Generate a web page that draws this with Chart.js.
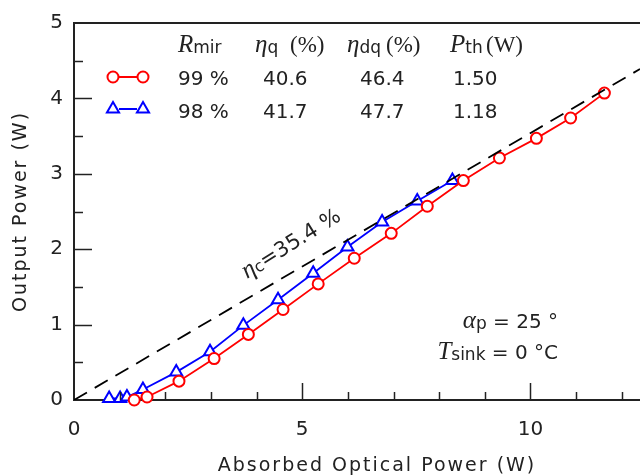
<!DOCTYPE html>
<html>
<head>
<meta charset="utf-8">
<script src="https://cdn.jsdelivr.net/npm/chart.js@4.4.1/dist/chart.umd.min.js"></script>
<style>
html, body { margin: 0; padding: 0; background: #fff; }
#wrap { width: 640px; height: 476px; }
</style>
</head>
<body>
<div id="wrap"><canvas id="chart" width="640" height="476"></canvas></div>
<script>
// values
const red99X  = [1.32, 1.60, 2.30, 3.07, 3.82, 4.58, 5.35, 6.14, 6.95, 7.74, 8.53, 9.32, 10.13, 10.88, 11.62];
const red99Y  = [0.00, 0.04, 0.25, 0.55, 0.87, 1.20, 1.54, 1.88, 2.21, 2.57, 2.91, 3.21, 3.47, 3.74, 4.07];
const blue98X = [0.77, 1.01, 1.16, 1.51, 2.24, 2.98, 3.71, 4.47, 5.24, 5.99, 6.75, 7.52, 8.29];
const blue98Y = [0.02, 0.02, 0.04, 0.14, 0.37, 0.64, 0.99, 1.33, 1.68, 2.03, 2.36, 2.64, 2.91];
const fitX = [0, 12.4];
const fitY = [0, 4.39];

const xTicks = [0, 5, 10];
const yTicks = [0, 1, 2, 3, 4, 5];

// legend table
const mirrors = ['99 %', '98 %'];
const etaQ    = ['40.6', '41.7'];
const etaDq   = ['46.4', '47.7'];
const pth     = ['1.50', '1.18'];

const RED = '#ff0000';
const BLUE = '#0000ff';
const INK = '#222';
const SANS = '"DejaVu Sans"';
const SERIF = '"Liberation Serif"';

const toPoints = (xs, ys) => xs.map((x, i) => ({ x: x, y: ys[i] }));

function richText(ctx, x, y, parts, align) {
    let w = 0;
    parts.forEach(p => { ctx.font = p.font; w += ctx.measureText(p.text).width; });
    let cx = align === 'right' ? x - w : x;
    parts.forEach(p => {
        ctx.font = p.font;
        ctx.fillText(p.text, cx, y + (p.dy || 0));
        cx += ctx.measureText(p.text).width;
    });
}

function marker(ctx, style, x, y, color) {
    ctx.save();
    ctx.strokeStyle = color;
    ctx.fillStyle = '#fff';
    ctx.lineWidth = 2;
    Chart.helpers.drawPoint(ctx, { pointStyle: style, radius: style === 'triangle' ? 7 : 5.5, rotation: 0, borderWidth: 2 }, x, y);
    ctx.restore();
}

const decorations = {
    id: 'decorations',
    afterDraw(chart) {
        const ctx = chart.ctx;
        const a = chart.chartArea;
        const xs = chart.scales.x, ys = chart.scales.y;
        ctx.save();

        // frame top and inward ticks
        ctx.strokeStyle = INK;
        ctx.lineWidth = 2;
        ctx.beginPath();
        ctx.moveTo(a.left, a.top);
        ctx.lineTo(a.right, a.top);
        ctx.stroke();
        ctx.lineWidth = 1.5;
        for (let v = 1; v <= 12; v++) {
            const px = Math.round(xs.getPixelForValue(v)) + 0.5;
            const len = v % 5 === 0 ? 17 : 8;
            ctx.beginPath();
            ctx.moveTo(px, a.bottom);
            ctx.lineTo(px, a.bottom - len);
            ctx.stroke();
        }
        for (let v = 0.5; v < 5; v += 0.5) {
            const py = Math.round(ys.getPixelForValue(v)) + 0.5;
            const len = Number.isInteger(v) ? 18 : 9;
            ctx.beginPath();
            ctx.moveTo(a.left, py);
            ctx.lineTo(a.left + len, py);
            ctx.stroke();
        }

        // axis titles
        ctx.fillStyle = INK;
        ctx.letterSpacing = '2px';
        ctx.font = '19px ' + SANS;
        ctx.textBaseline = 'alphabetic';
        ctx.textAlign = 'center';
        ctx.fillText('Absorbed Optical Power (W)', 377, 471);
        ctx.save();
        ctx.translate(26, (a.top + a.bottom) / 2);
        ctx.rotate(-Math.PI / 2);
        ctx.fillText('Output Power (W)', 0, 0);
        ctx.restore();
        ctx.letterSpacing = '0px';
        ctx.textAlign = 'left';

        // legend table header
        richText(ctx, 178, 52, [
            { text: 'R', font: 'italic 25px ' + SERIF },
            { text: 'mir', font: '17px ' + SANS, dy: 1 }
        ]);
        richText(ctx, 255, 52, [
            { text: 'η', font: 'italic 25px ' + SERIF },
            { text: 'q', font: '17px ' + SANS, dy: 1 }
        ]);
        richText(ctx, 347, 52, [
            { text: 'η', font: 'italic 25px ' + SERIF },
            { text: 'dq', font: '17px ' + SANS, dy: 1 }
        ]);
        richText(ctx, 450, 52, [
            { text: 'P', font: 'italic 25px ' + SERIF },
            { text: 'th', font: '17px ' + SANS, dy: 1 }
        ]);
        ctx.font = '23px ' + SERIF;
        ctx.fillText('(%)', 290, 52);
        ctx.fillText('(%)', 386, 52);
        ctx.fillText('(W)', 486, 52);

        // legend rows
        const rowY = [85, 118];
        const rowColor = [RED, BLUE];
        const rowStyle = ['circle', 'triangle'];
        const markY = [77, 109];
        ctx.font = '20px ' + SANS;
        for (let i = 0; i < 2; i++) {
            ctx.fillStyle = INK;
            ctx.fillText(mirrors[i], 178, rowY[i]);
            ctx.fillText(etaQ[i], 263, rowY[i]);
            ctx.fillText(etaDq[i], 360, rowY[i]);
            ctx.fillText(pth[i], 453, rowY[i]);
            ctx.strokeStyle = rowColor[i];
            ctx.lineWidth = 2;
            ctx.beginPath();
            ctx.moveTo(119, markY[i]);
            ctx.lineTo(137, markY[i]);
            ctx.stroke();
            marker(ctx, rowStyle[i], 113, markY[i], rowColor[i]);
            marker(ctx, rowStyle[i], 143, markY[i], rowColor[i]);
        }

        // eta_c label along the dashed line
        ctx.save();
        ctx.translate(247, 279);
        ctx.rotate(-0.56);
        ctx.fillStyle = INK;
        richText(ctx, 0, 0, [
            { text: 'η', font: 'italic 25px ' + SERIF },
            { text: 'c', font: '16px ' + SANS, dy: 1 },
            { text: '=35.4 %', font: '21px ' + SANS }
        ]);
        ctx.restore();

        // conditions
        ctx.fillStyle = INK;
        richText(ctx, 558, 328, [
            { text: 'α', font: 'italic 25px ' + SERIF },
            { text: 'p', font: '17px ' + SANS, dy: 1 },
            { text: ' = 25 °', font: '20px ' + SANS }
        ], 'right');
        richText(ctx, 558, 359, [
            { text: 'T', font: 'italic 25px ' + SERIF },
            { text: 'sink', font: '17px ' + SANS, dy: 1 },
            { text: ' = 0 °C', font: '20px ' + SANS }
        ], 'right');

        ctx.restore();
    }
};

new Chart(document.getElementById('chart'), {
    type: 'scatter',
    data: {
        datasets: [{
            label: 'fit',
            data: toPoints(fitX, fitY),
            showLine: true,
            borderColor: '#000',
            borderWidth: 1.8,
            borderDash: [15, 9],
            pointRadius: 0
        }, {
            label: '99 %',
            data: toPoints(red99X, red99Y),
            showLine: true,
            borderColor: RED,
            borderWidth: 1.8,
            pointStyle: 'circle',
            pointRadius: 5.5,
            pointBorderWidth: 2,
            pointBorderColor: RED,
            pointBackgroundColor: '#fff',
            clip: false
        }, {
            label: '98 %',
            data: toPoints(blue98X, blue98Y),
            showLine: true,
            borderColor: BLUE,
            borderWidth: 1.8,
            pointStyle: 'triangle',
            pointRadius: 7,
            pointBorderWidth: 2,
            pointBorderColor: BLUE,
            pointBackgroundColor: '#fff',
            clip: false
        }]
    },
    options: {
        responsive: false,
        animation: false,
        devicePixelRatio: 1,
        layout: { autoPadding: false, padding: { top: 20, right: 0, left: 0, bottom: 0 } },
        plugins: { legend: { display: false }, tooltip: { enabled: false } },
        scales: {
            x: {
                type: 'linear',
                min: 0,
                max: 12.4,
                afterBuildTicks: s => { s.ticks = xTicks.map(v => ({ value: v })); },
                afterFit: s => { s.height = 76; s.paddingLeft = 0; s.paddingRight = 0; },
                grid: { display: false, drawTicks: false },
                border: { display: true, color: INK, width: 2 },
                ticks: { color: INK, font: { family: 'DejaVu Sans', size: 20 }, padding: 18, maxRotation: 0 }
            },
            y: {
                type: 'linear',
                min: 0,
                max: 5,
                afterBuildTicks: s => { s.ticks = yTicks.map(v => ({ value: v })); },
                afterFit: s => { s.width = 74; },
                grid: { display: false, drawTicks: false },
                border: { display: true, color: INK, width: 2 },
                ticks: { color: INK, font: { family: 'DejaVu Sans', size: 20 }, padding: 11 }
            }
        }
    },
    plugins: [decorations]
});
</script>
</body>
</html>
